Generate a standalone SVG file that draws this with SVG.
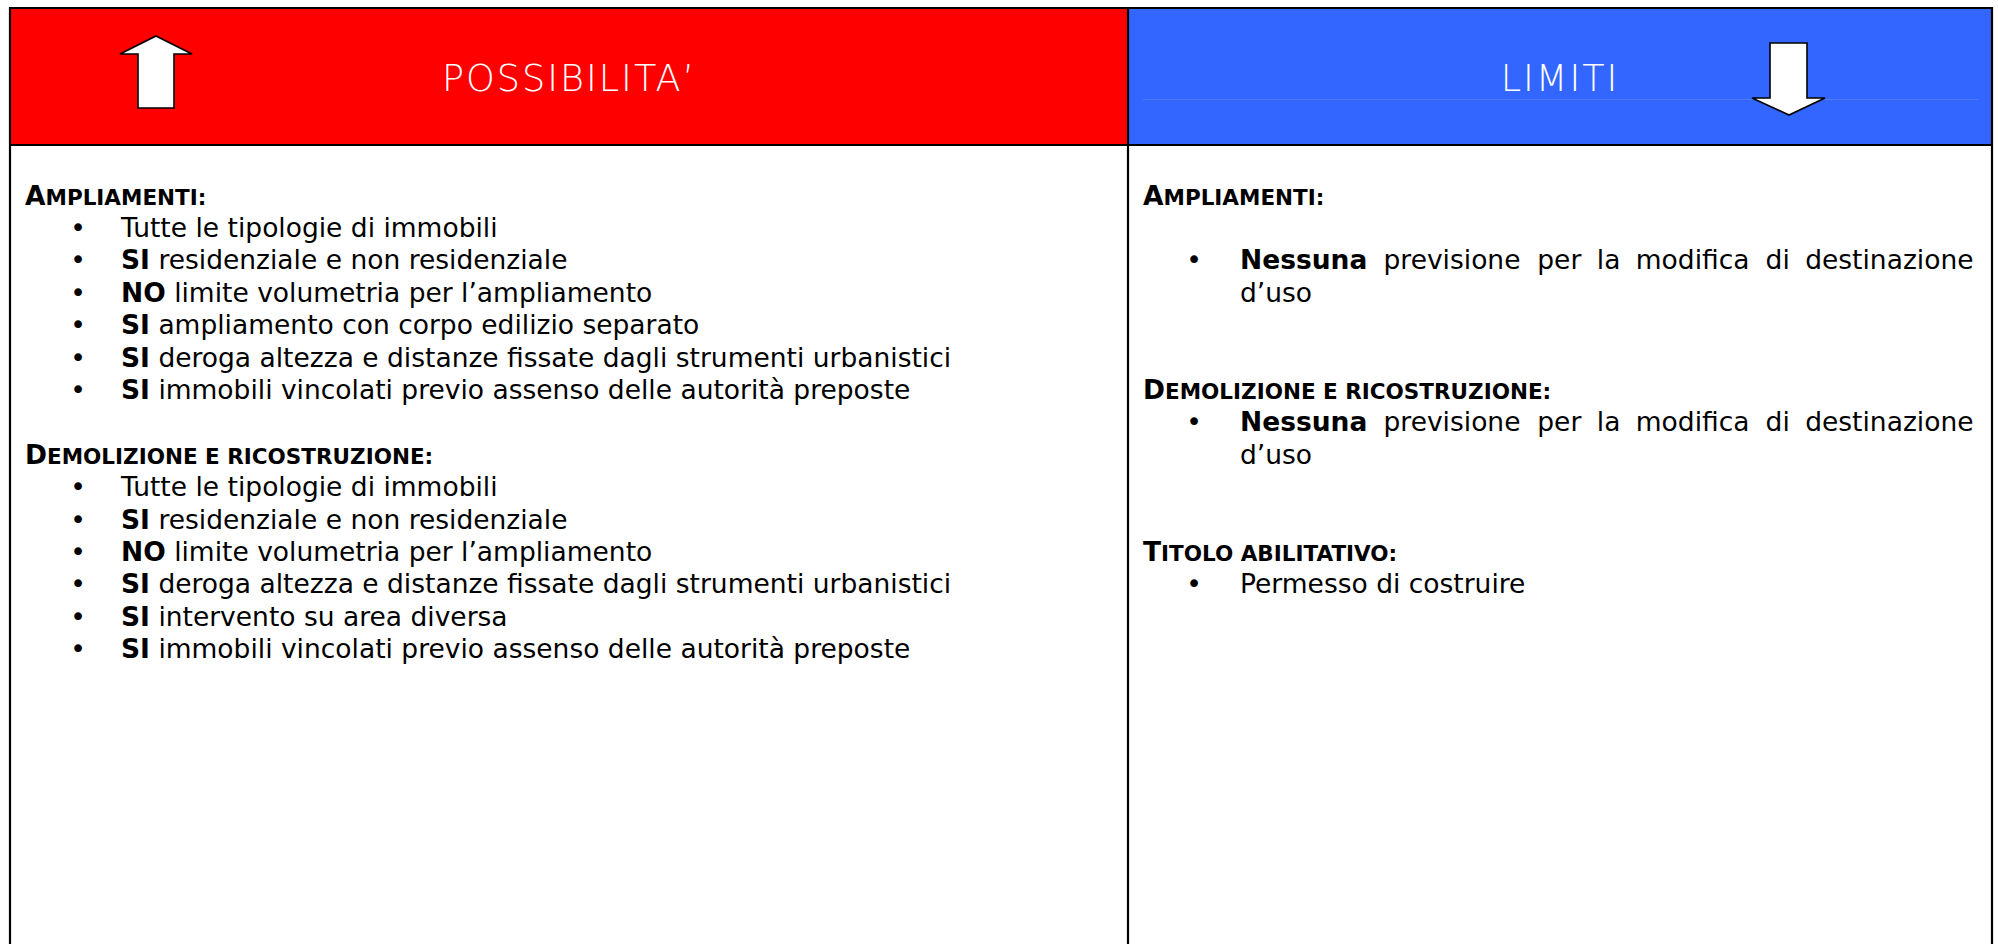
<svg xmlns="http://www.w3.org/2000/svg" width="1998" height="944" viewBox="0 0 1998 944">
  <style>
    .grid { stroke: #000; stroke-width: 2.2; fill: none; }
    .arrow { fill: #fff; stroke: #000; stroke-width: 1.6; stroke-linejoin: miter; }
    .title { font-family: "DejaVu Sans", "Open Sans", sans-serif; font-weight: 200; font-size: 36.6px; fill: #fff; letter-spacing: 2px; text-anchor: middle; }
    .t { font-family: "DejaVu Sans", "Liberation Sans", sans-serif; font-size: 26.5px; fill: #000; }
    .h { font-family: "DejaVu Sans", "Liberation Sans", sans-serif; font-size: 21.5px; font-weight: bold; fill: #000; }
    .big { font-size: 26.5px; }
    .b { font-weight: bold; }
    .bul { font-family: "DejaVu Sans", "Liberation Sans", sans-serif; font-size: 26.5px; fill: #000; text-anchor: middle; }
  </style>
  <rect width="1998" height="944" fill="#fff"/>

  <g id="header-possibilita">
    <rect x="10" y="8" width="1118" height="137" fill="#ff0000"/>
    <polygon class="arrow" points="156,36 192,54 174,54 174,108 138,108 138,54 120,54"/>
    <text class="title" x="569" y="91">POSSIBILITA’</text>
  </g>

  <g id="header-limiti">
    <rect x="1128" y="8" width="864" height="137" fill="#3366ff"/>
    <line x1="1143" y1="99.5" x2="1978" y2="99.5" stroke="#4d7bff" stroke-width="1"/>
    <text class="title" x="1560" y="91">LIMITI</text>
    <polygon class="arrow" points="1770,43 1807,43 1807,98 1825,98 1789,115 1752,98 1770,98"/>
  </g>

  <g id="table-lines">
    <line class="grid" x1="10" y1="8" x2="1992" y2="8"/>
    <line class="grid" x1="10" y1="145" x2="1992" y2="145"/>
    <line class="grid" x1="10" y1="7" x2="10" y2="944"/>
    <line class="grid" x1="1128" y1="7" x2="1128" y2="944"/>
    <line class="grid" x1="1992" y1="7" x2="1992" y2="944"/>
  </g>

  <g id="body-possibilita">
    <text class="h" x="25" y="204.5"><tspan class="big">A</tspan>MPLIAMENTI:</text>
    <text class="bul" x="78" y="236.9">•</text>
    <text class="t" x="121" y="236.9">Tutte le tipologie di immobili</text>
    <text class="bul" x="78" y="269.3">•</text>
    <text class="t" x="121" y="269.3"><tspan class="b">SI</tspan> residenziale e non residenziale</text>
    <text class="bul" x="78" y="301.7">•</text>
    <text class="t" x="121" y="301.7"><tspan class="b">NO</tspan> limite volumetria per l’ampliamento</text>
    <text class="bul" x="78" y="334.1">•</text>
    <text class="t" x="121" y="334.1"><tspan class="b">SI</tspan> ampliamento con corpo edilizio separato</text>
    <text class="bul" x="78" y="366.5">•</text>
    <text class="t" x="121" y="366.5"><tspan class="b">SI</tspan> deroga altezza e distanze fissate dagli strumenti urbanistici</text>
    <text class="bul" x="78" y="398.9">•</text>
    <text class="t" x="121" y="398.9"><tspan class="b">SI</tspan> immobili vincolati previo assenso delle autorità preposte</text>

    <text class="h" x="25" y="463.7"><tspan class="big">D</tspan>EMOLIZIONE E RICOSTRUZIONE:</text>
    <text class="bul" x="78" y="496.1">•</text>
    <text class="t" x="121" y="496.1">Tutte le tipologie di immobili</text>
    <text class="bul" x="78" y="528.5">•</text>
    <text class="t" x="121" y="528.5"><tspan class="b">SI</tspan> residenziale e non residenziale</text>
    <text class="bul" x="78" y="560.9">•</text>
    <text class="t" x="121" y="560.9"><tspan class="b">NO</tspan> limite volumetria per l’ampliamento</text>
    <text class="bul" x="78" y="593.3">•</text>
    <text class="t" x="121" y="593.3"><tspan class="b">SI</tspan> deroga altezza e distanze fissate dagli strumenti urbanistici</text>
    <text class="bul" x="78" y="625.7">•</text>
    <text class="t" x="121" y="625.7"><tspan class="b">SI</tspan> intervento su area diversa</text>
    <text class="bul" x="78" y="658.1">•</text>
    <text class="t" x="121" y="658.1"><tspan class="b">SI</tspan> immobili vincolati previo assenso delle autorità preposte</text>
  </g>

  <g id="body-limiti">
    <text class="h" x="1143" y="204.5"><tspan class="big">A</tspan>MPLIAMENTI:</text>
    <text class="bul" x="1194" y="269.3">•</text>
    <text class="t" y="269.3"><tspan class="b" x="1240">Nessuna</tspan><tspan x="1383.5">previsione</tspan><tspan x="1537.3">per</tspan><tspan x="1596.8">la</tspan><tspan x="1635.8">modifica</tspan><tspan x="1765.6">di</tspan><tspan x="1805.2">destinazione</tspan></text>
    <text class="t" x="1240" y="301.7">d’uso</text>

    <text class="h" x="1143" y="398.9"><tspan class="big">D</tspan>EMOLIZIONE E RICOSTRUZIONE:</text>
    <text class="bul" x="1194" y="431.3">•</text>
    <text class="t" y="431.3"><tspan class="b" x="1240">Nessuna</tspan><tspan x="1383.5">previsione</tspan><tspan x="1537.3">per</tspan><tspan x="1596.8">la</tspan><tspan x="1635.8">modifica</tspan><tspan x="1765.6">di</tspan><tspan x="1805.2">destinazione</tspan></text>
    <text class="t" x="1240" y="463.7">d’uso</text>

    <text class="h" x="1143" y="560.9"><tspan class="big">T</tspan>ITOLO ABILITATIVO:</text>
    <text class="bul" x="1194" y="593.3">•</text>
    <text class="t" x="1240" y="593.3">Permesso di costruire</text>
  </g>

  <g id="connectors"/>
</svg>
